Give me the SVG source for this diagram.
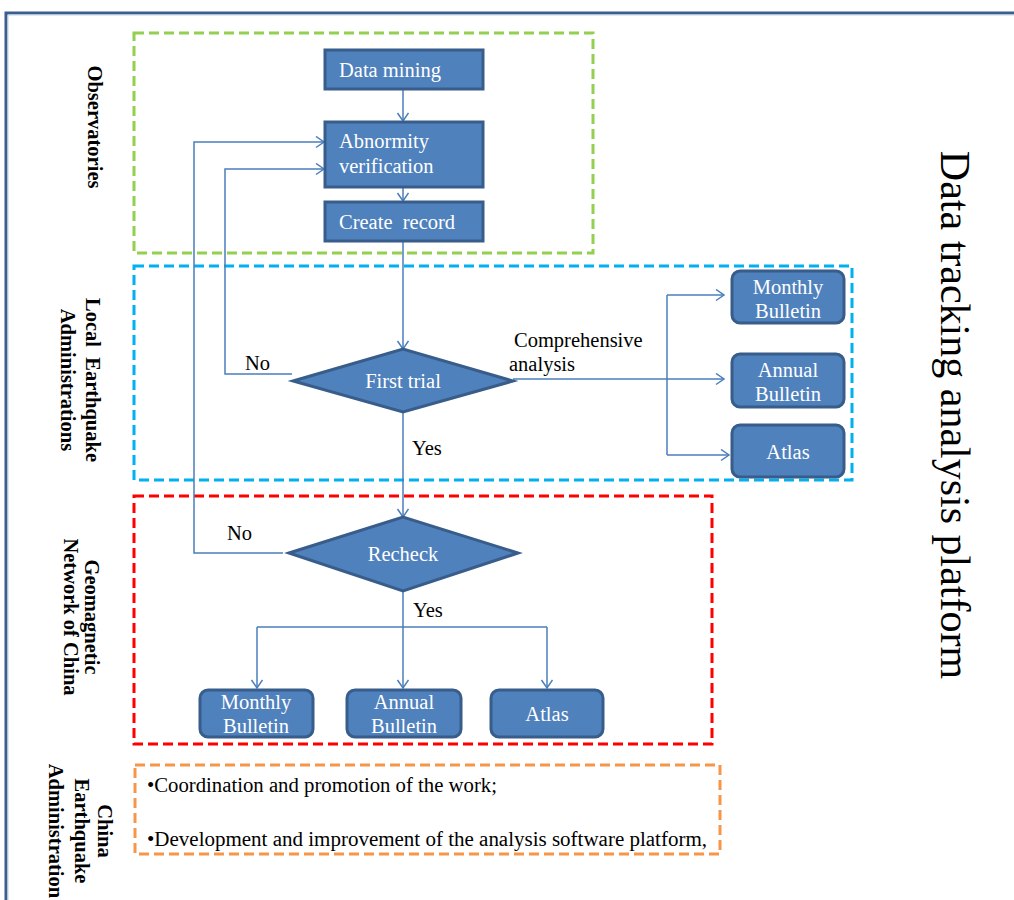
<svg xmlns="http://www.w3.org/2000/svg" width="1014" height="900" viewBox="0 0 1014 900" font-family="Liberation Serif, Times New Roman, serif">
<style>
.box{fill:#4f81bd;stroke:#385d8a;stroke-width:3}
.wt{fill:#ffffff;font-size:20.5px}
.bt{fill:#000000;font-size:20.5px}
.lab{fill:#000000;font-size:20.5px;font-weight:bold;text-anchor:middle}
.c{fill:none;stroke:#4a7ebb;stroke-width:1.5}
.dash{fill:none;stroke-width:3;stroke-dasharray:10 5}
</style>
<defs>
<marker id="ah" markerUnits="userSpaceOnUse" markerWidth="12" markerHeight="14" refX="9" refY="6" orient="auto">
<path d="M1,0.5 L9,6 L1,11.5" fill="none" stroke="#4a7ebb" stroke-width="1.5"/>
</marker>
</defs>
<path d="M6,900 V13 H1014" fill="none" stroke="#3b5f8c" stroke-width="3"/>
<path d="M8,900 V15 H1014" fill="none" stroke="#c5d3e3" stroke-width="1"/>
<g id="lanes">
<rect id="lane-observatories" class="dash" x="134" y="33" width="459" height="220" stroke="#92d050"/>
<rect id="lane-local" class="dash" x="134" y="266" width="718" height="214" stroke="#00b0f0"/>
<rect id="lane-gnc" class="dash" x="134" y="496" width="578" height="248" stroke="#ff0000"/>
<rect id="lane-cea" class="dash" x="135" y="765" width="585" height="89" stroke="#f79646"/>
</g>
<g id="lane-labels" font-family="Liberation Serif, serif">
<text class="lab" transform="translate(88,127) rotate(90)">Observatories</text>
<text class="lab" transform="translate(86,380) rotate(90)" xml:space="preserve">Local  Earthquake</text>
<text class="lab" transform="translate(61,380) rotate(90)">Administrations</text>
<text class="lab" transform="translate(85,617) rotate(90)">Geomagnetic</text>
<text class="lab" transform="translate(64,617) rotate(90)">Network of China</text>
<text class="lab" transform="translate(98,831) rotate(90)">China</text>
<text class="lab" transform="translate(75,831) rotate(90)">Earthquake</text>
<text class="lab" transform="translate(49,831) rotate(90)">Administration</text>
</g>
<g id="title">
<text transform="translate(941,415) rotate(90)" text-anchor="middle" font-family="Liberation Serif, serif" font-size="42" fill="#000">Data tracking analysis platform</text>
</g>
<g id="connectors">
<line class="c" x1="403" y1="89" x2="403" y2="121" marker-end="url(#ah)"/>
<line class="c" x1="403" y1="188" x2="403" y2="201" marker-end="url(#ah)"/>
<line class="c" x1="403" y1="241" x2="403" y2="349" marker-end="url(#ah)"/>
<path class="c" d="M292,374 H225 V169 H324" marker-end="url(#ah)"/>
<line class="c" x1="403" y1="412" x2="403" y2="517" marker-end="url(#ah)"/>
<path class="c" d="M283,553 H194 V142 H324" marker-end="url(#ah)"/>
<line class="c" x1="403" y1="591" x2="403" y2="627"/>
<line class="c" x1="257" y1="627" x2="547" y2="627"/>
<line class="c" x1="257" y1="627" x2="257" y2="688" marker-end="url(#ah)"/>
<line class="c" x1="403" y1="627" x2="403" y2="688" marker-end="url(#ah)"/>
<line class="c" x1="547" y1="627" x2="547" y2="688" marker-end="url(#ah)"/>
<line class="c" x1="513" y1="379" x2="667" y2="379"/>
<line class="c" x1="667" y1="295" x2="667" y2="455"/>
<line class="c" x1="667" y1="295" x2="724" y2="295" marker-end="url(#ah)"/>
<line class="c" x1="667" y1="379" x2="724" y2="379" marker-end="url(#ah)"/>
<line class="c" x1="667" y1="455" x2="729" y2="455" marker-end="url(#ah)"/>
</g>
<g id="edge-labels" font-family="Liberation Serif, serif">
<text class="bt" x="245" y="370">No</text>
<text class="bt" x="412" y="455">Yes</text>
<text class="bt" x="227" y="540">No</text>
<text class="bt" x="413" y="617">Yes</text>
<text class="bt" x="514" y="347">Comprehensive</text>
<text class="bt" x="509" y="371">analysis</text>
</g>
<g id="data-mining" font-family="Liberation Serif, serif">
<rect class="box" x="325" y="50" width="158" height="39"/>
<text class="wt" x="339" y="77">Data mining</text>
</g>
<g id="abnormity-verification" font-family="Liberation Serif, serif">
<rect class="box" x="325" y="122" width="158" height="65"/>
<text class="wt" x="339" y="148">Abnormity</text>
<text class="wt" x="339" y="173">verification</text>
</g>
<g id="create-record" font-family="Liberation Serif, serif">
<rect class="box" x="325" y="202" width="158" height="39"/>
<text class="wt" x="339" y="229" xml:space="preserve">Create  record</text>
</g>
<g id="first-trial" font-family="Liberation Serif, serif">
<polygon class="box" points="293,381 403,349 513,381 403,412"/>
<text class="wt" x="403" y="388" text-anchor="middle">First trial</text>
</g>
<g id="recheck" font-family="Liberation Serif, serif">
<polygon class="box" points="289,553 403,517 518,553 403,591"/>
<text class="wt" x="403" y="561" text-anchor="middle">Recheck</text>
</g>
<g id="local-monthly" font-family="Liberation Serif, serif">
<rect class="box" x="732" y="271" width="112" height="52" rx="8"/>
<text class="wt" x="788" y="294" text-anchor="middle">Monthly</text>
<text class="wt" x="788" y="318" text-anchor="middle">Bulletin</text>
</g>
<g id="local-annual" font-family="Liberation Serif, serif">
<rect class="box" x="732" y="354" width="112" height="53" rx="8"/>
<text class="wt" x="788" y="377" text-anchor="middle">Annual</text>
<text class="wt" x="788" y="401" text-anchor="middle">Bulletin</text>
</g>
<g id="local-atlas" font-family="Liberation Serif, serif">
<rect class="box" x="732" y="425" width="112" height="52" rx="8"/>
<text class="wt" x="788" y="459" text-anchor="middle">Atlas</text>
</g>
<g id="gnc-monthly" font-family="Liberation Serif, serif">
<rect class="box" x="200" y="690" width="113" height="47" rx="8"/>
<text class="wt" x="256" y="709" text-anchor="middle">Monthly</text>
<text class="wt" x="256" y="733" text-anchor="middle">Bulletin</text>
</g>
<g id="gnc-annual" font-family="Liberation Serif, serif">
<rect class="box" x="347" y="690" width="114" height="47" rx="8"/>
<text class="wt" x="404" y="709" text-anchor="middle">Annual</text>
<text class="wt" x="404" y="733" text-anchor="middle">Bulletin</text>
</g>
<g id="gnc-atlas" font-family="Liberation Serif, serif">
<rect class="box" x="491" y="690" width="112" height="47" rx="8"/>
<text class="wt" x="547" y="721" text-anchor="middle">Atlas</text>
</g>
<g id="cea-tasks" font-family="Liberation Serif, serif">
<text class="bt" x="147" y="792" textLength="350" lengthAdjust="spacingAndGlyphs">•Coordination and promotion of the work;</text>
<text class="bt" x="147" y="846" textLength="560" lengthAdjust="spacingAndGlyphs">•Development and improvement of the analysis software platform,</text>
</g>
</svg>
